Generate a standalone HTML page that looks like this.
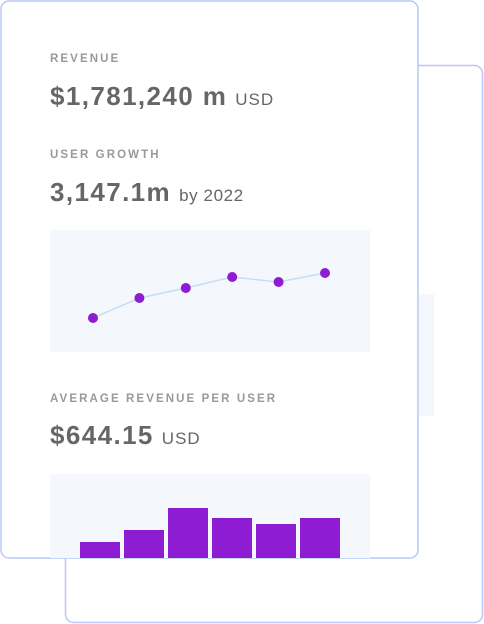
<!DOCTYPE html>
<html><head><meta charset="utf-8"><style>
html,body{margin:0;padding:0;background:#fff;}
svg{display:block;font-family:"Liberation Sans",sans-serif;}
</style></head><body>
<svg width="484" height="624" viewBox="0 0 484 624">
<rect x="65.5" y="65.5" width="417" height="557" rx="8" fill="#fff" stroke="#b9c8f7" stroke-width="1.5"/>
<rect x="370" y="294" width="64" height="122" fill="#f4f8fc"/>
<rect x="1" y="1" width="417" height="557" rx="8" fill="#fff" stroke="#b9c8f7" stroke-width="1.5"/>
<text x="50" y="62" font-size="11.5" font-weight="bold" fill="#999" letter-spacing="2.1">REVENUE</text>
<text x="50" y="105" fill="#666"><tspan font-size="26" font-weight="bold" letter-spacing="1.4">$1,781,240 m</tspan><tspan font-size="17" dx="8" letter-spacing="1">USD</tspan></text>
<text x="50" y="158" font-size="11.5" font-weight="bold" fill="#999" letter-spacing="2.1">USER GROWTH</text>
<text x="50" y="201" fill="#666"><tspan font-size="26" font-weight="bold" letter-spacing="1.4">3,147.1m</tspan><tspan font-size="17" dx="8" letter-spacing="0.6">by 2022</tspan></text>
<rect x="50" y="230" width="320" height="122" fill="#f4f8fc"/>
<g id="line-chart"></g>
<text x="50" y="402" font-size="11.5" font-weight="bold" fill="#999" letter-spacing="2.1">AVERAGE REVENUE PER USER</text>
<text x="50" y="444" fill="#666"><tspan font-size="26" font-weight="bold" letter-spacing="1.4">$644.15</tspan><tspan font-size="17" dx="8" letter-spacing="1">USD</tspan></text>
<rect x="50" y="474" width="320" height="84" fill="#f4f8fc"/>
<g id="bar-chart"></g>
</svg>
<script>
const lineCategories = ["p1","p2","p3","p4","p5","p6"];
const lineValues = [20, 40, 50, 61, 56, 65];
const barCategories = ["b1","b2","b3","b4","b5","b6"];
const barValues = [16, 28, 50, 40, 34, 40];

const NS = "http://www.w3.org/2000/svg";
function lx(i){ return 93 + i * 46.4; }
function ly(v){ return 338 - v * 1.0; }
const lg = document.getElementById("line-chart");
let pts = lineValues.map((v,i)=>lx(i)+","+ly(v)).join(" ");
const pl = document.createElementNS(NS,"polyline");
pl.setAttribute("points", pts);
pl.setAttribute("fill","none");
pl.setAttribute("stroke","#c8dcf2");
pl.setAttribute("stroke-width","1.5");


lg.appendChild(pl);
lineValues.forEach((v,i)=>{
  const c = document.createElementNS(NS,"circle");
  c.setAttribute("cx", lx(i)); c.setAttribute("cy", ly(v)); c.setAttribute("r", 5);
  c.setAttribute("fill","#8e1cd2");
  
  
  lg.appendChild(c);
});
function bx(i){ return 80 + i * 44; }
function by(v){ return 558 - v; }
const bg = document.getElementById("bar-chart");
barValues.forEach((v,i)=>{
  const r = document.createElementNS(NS,"rect");
  r.setAttribute("x", bx(i)); r.setAttribute("y", by(v));
  r.setAttribute("width", 40); r.setAttribute("height", 558 - by(v));
  r.setAttribute("fill","#8e1cd2");
  
  
  bg.appendChild(r);
});
</script>
</body></html>
